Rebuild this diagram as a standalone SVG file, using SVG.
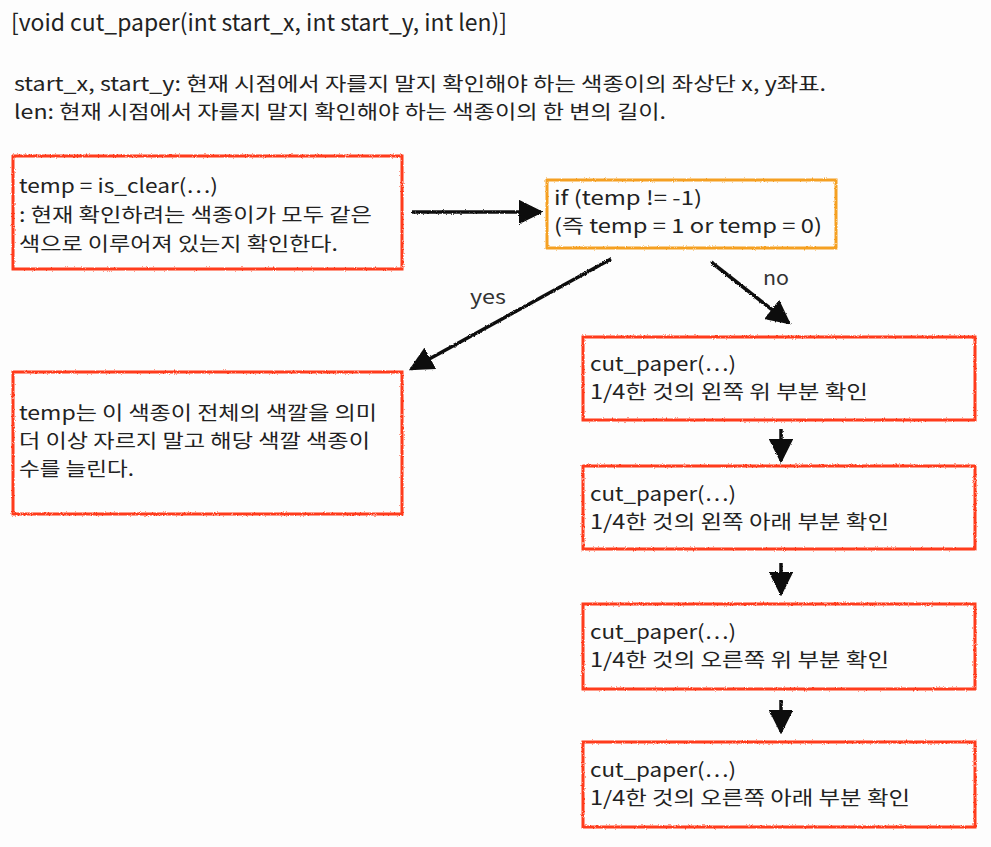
<svg xmlns="http://www.w3.org/2000/svg" width="991" height="847" viewBox="0 0 991 847">
<defs>
<filter id="rough" filterUnits="userSpaceOnUse" x="0" y="0" width="991" height="847">
<feTurbulence type="fractalNoise" baseFrequency="0.9" numOctaves="2" seed="3" result="n"/>
<feDisplacementMap in="SourceGraphic" in2="n" scale="2.5" xChannelSelector="R" yChannelSelector="G"/>
</filter>
<marker id="ah" viewBox="0 0 10 10" refX="9" refY="5" markerWidth="7" markerHeight="7" markerUnits="strokeWidth" orient="auto">
<path d="M0,0 L10,5 L0,10 Z" fill="#111"/>
</marker>
<style>
text{font-family:"Noto Sans CJK KR","Noto Sans",sans-serif;fill:#222;font-size:19.5px}
.title{font-size:23px}
.red{fill:none;stroke:#ff3b1a;stroke-width:3;filter:url(#rough)}
.org{fill:none;stroke:#f5a020;stroke-width:3;filter:url(#rough)}
.arr{fill:none;stroke:#111;stroke-width:3.5;marker-end:url(#ah);filter:url(#rough)}
.lbl{fill:#333}
</style>
</defs>
<rect width="991" height="847" fill="#fdfdfd"/>
<text class="title" x="11" y="31" textLength="496" lengthAdjust="spacingAndGlyphs">[void cut_paper(int start_x, int start_y, int len)]</text>
<text x="14" y="91" textLength="812" lengthAdjust="spacingAndGlyphs">start_x, start_y: 현재 시점에서 자를지 말지 확인해야 하는 색종이의 좌상단 x, y좌표.</text>
<text x="14" y="119" textLength="652" lengthAdjust="spacingAndGlyphs">len: 현재 시점에서 자를지 말지 확인해야 하는 색종이의 한 변의 길이.</text>

<g id="connectors">
<line class="arr" x1="412" y1="212" x2="541" y2="212"/>
<line class="arr" x1="611" y1="259" x2="411" y2="369"/>
<line class="arr" x1="711" y1="262" x2="789" y2="323"/>
<line class="arr" x1="781" y1="429" x2="781" y2="461"/>
<line class="arr" x1="781" y1="563" x2="781" y2="594"/>
<line class="arr" x1="781" y1="700" x2="781" y2="732"/>
<text class="lbl" x="470" y="304" textLength="36" lengthAdjust="spacingAndGlyphs">yes</text>
<text class="lbl" x="763" y="285" textLength="26" lengthAdjust="spacingAndGlyphs">no</text>
</g>

<g id="node-isclear">
<rect class="red" x="13" y="156" width="389" height="113"/>
<text x="19" y="193" textLength="199" lengthAdjust="spacingAndGlyphs">temp = is_clear(⋯)</text>
<text x="19" y="222" textLength="353" lengthAdjust="spacingAndGlyphs">: 현재 확인하려는 색종이가 모두 같은</text>
<text x="19" y="251" textLength="319" lengthAdjust="spacingAndGlyphs">색으로 이루어져 있는지 확인한다.</text>
</g>

<g id="node-if">
<rect class="org" x="547" y="180" width="289" height="68"/>
<text x="554" y="205" textLength="148" lengthAdjust="spacingAndGlyphs">if (temp != -1)</text>
<text x="554" y="233" textLength="268" lengthAdjust="spacingAndGlyphs">(즉 temp = 1 or temp = 0)</text>
</g>

<g id="node-yes">
<rect class="red" x="13" y="372" width="389" height="142"/>
<text x="19" y="420" textLength="358" lengthAdjust="spacingAndGlyphs">temp는 이 색종이 전체의 색깔을 의미</text>
<text x="19" y="448" textLength="351" lengthAdjust="spacingAndGlyphs">더 이상 자르지 말고 해당 색깔 색종이</text>
<text x="19" y="476" textLength="115" lengthAdjust="spacingAndGlyphs">수를 늘린다.</text>
</g>

<g id="node-lt">
<rect class="red" x="583" y="337" width="392" height="83"/>
<text x="590" y="371" textLength="146" lengthAdjust="spacingAndGlyphs">cut_paper(⋯)</text>
<text x="590" y="399" textLength="278" lengthAdjust="spacingAndGlyphs">1/4한 것의 왼쪽 위 부분 확인</text>
</g>
<g id="node-lb">
<rect class="red" x="583" y="466" width="392" height="83"/>
<text x="590" y="501" textLength="146" lengthAdjust="spacingAndGlyphs">cut_paper(⋯)</text>
<text x="590" y="529" textLength="299" lengthAdjust="spacingAndGlyphs">1/4한 것의 왼쪽 아래 부분 확인</text>
</g>
<g id="node-rt">
<rect class="red" x="583" y="604" width="392" height="85"/>
<text x="590" y="639" textLength="146" lengthAdjust="spacingAndGlyphs">cut_paper(⋯)</text>
<text x="590" y="667" textLength="299" lengthAdjust="spacingAndGlyphs">1/4한 것의 오른쪽 위 부분 확인</text>
</g>
<g id="node-rb">
<rect class="red" x="583" y="742" width="392" height="85"/>
<text x="590" y="777" textLength="146" lengthAdjust="spacingAndGlyphs">cut_paper(⋯)</text>
<text x="590" y="805" textLength="320" lengthAdjust="spacingAndGlyphs">1/4한 것의 오른쪽 아래 부분 확인</text>
</g>
</svg>
